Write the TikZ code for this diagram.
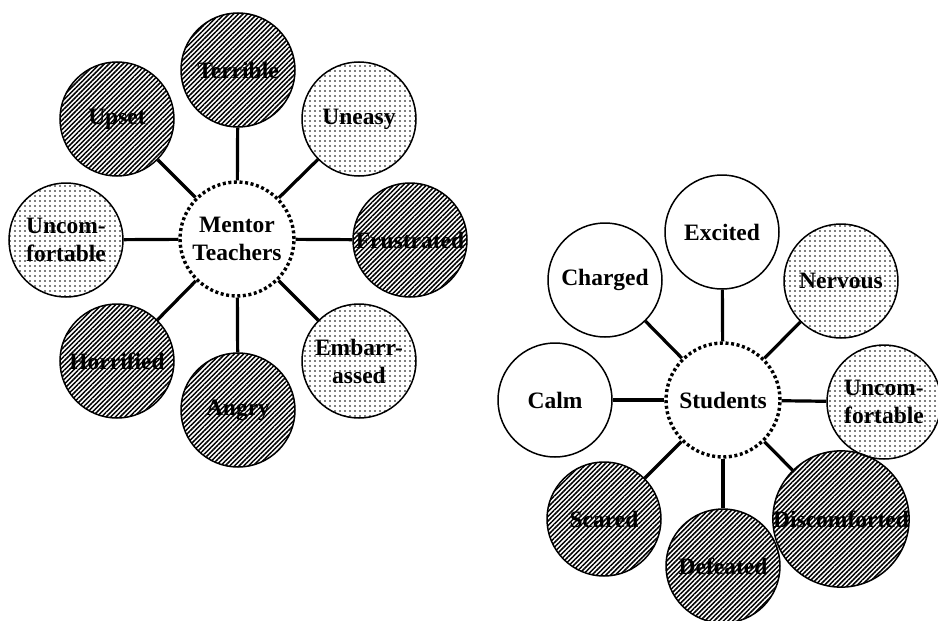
\documentclass[tikz,border=0pt]{standalone}
\usepackage{fontspec}
\setmainfont{Liberation Serif}
\usetikzlibrary{patterns.meta}
\begin{document}
\begin{tikzpicture}[x=1pt,y=-1pt,
  feeling/.style={circle, draw=black, line width=1.5pt, minimum size=114pt,
    inner sep=0pt, align=center, font=\bfseries\fontsize{23.5}{28}\selectfont},
  hatched/.style={feeling, pattern={Lines[angle=45,distance=3.3pt,line width=1.5pt]}},
  speckled/.style={feeling, pattern={Dots[distance=5pt,radius=0.9pt]}},
  plain/.style={feeling, fill=white},
  hub/.style={circle, draw=black, line width=3.4pt, dash pattern=on 3pt off 2.6pt,
    minimum size=114pt, inner sep=0pt, align=center,
    font=\bfseries\fontsize{23.5}{28}\selectfont},
  link/.style={line width=3.2pt}
]
\useasboundingbox (0,0) rectangle (938,621);

% Mentor teachers cluster
\node[hub] (mt) at (237,239) {Mentor\\Teachers};
\node[hatched]  (terrible)  at (238,70)  {Terrible};
\node[speckled] (uneasy)    at (359,119) {Uneasy};
\node[hatched]  (frustr)    at (410,240) {Frustrated};
\node[speckled] (embarr)    at (359,361) {Embarr-\\assed};
\node[hatched]  (angry)     at (238,410) {Angry};
\node[hatched]  (horrified) at (117,361) {Horrified};
\node[speckled] (uncomfL)   at (66,240)  {Uncom-\\fortable};
\node[hatched]  (upset)     at (117,119) {Upset};

\foreach \n in {terrible,uneasy,frustr,embarr,angry,horrified,uncomfL,upset}
  \draw[link] (mt) -- (\n);

% Students cluster
\node[hub] (st) at (723,400) {Students};
\node[plain]    (excited)  at (722,232) {Excited};
\node[speckled] (nervous)  at (841,281) {Nervous};
\node[speckled] (uncomfR)  at (884,402) {Uncom-\\fortable};
\node[hatched]  (discomf)  at (841,519) {Discomforted};
\node[hatched]  (defeated) at (723,566) {Defeated};
\node[hatched]  (scared)   at (604,519) {Scared};
\node[plain]    (calm)     at (555,400) {Calm};
\node[plain]    (charged)  at (605,280) {Charged};

\foreach \n in {excited,nervous,uncomfR,discomf,defeated,scared,calm,charged}
  \draw[link] (st) -- (\n);
\end{tikzpicture}
\end{document}
